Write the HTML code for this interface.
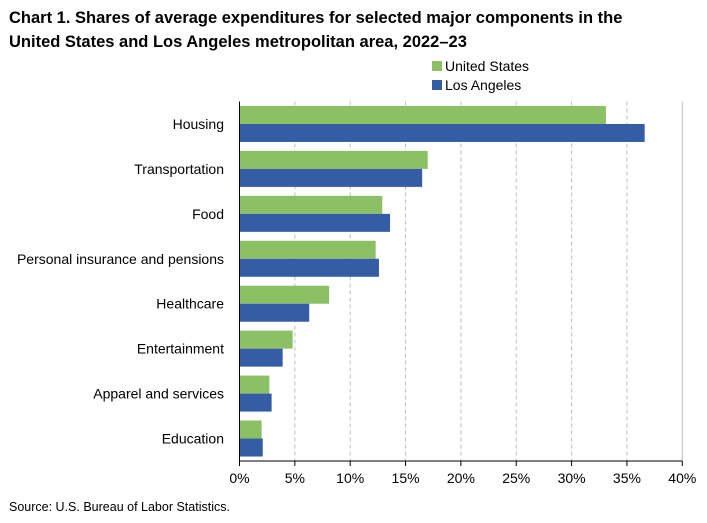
<!DOCTYPE html>
<html><head><meta charset="utf-8"><style>
body{margin:0;background:#fff;font-family:"Liberation Sans",Arial,sans-serif;}
#wrap{position:relative;width:707px;height:523px;overflow:hidden;}
.title{position:absolute;left:9px;top:6px;font-weight:bold;font-size:16.5px;line-height:24px;color:#000;}
.src{position:absolute;left:9px;top:500px;font-size:12.5px;color:#000;}
</style></head><body>
<div id="wrap">
<div class="title">Chart 1. Shares of average expenditures for selected major components in the<br>United States and Los Angeles metropolitan area, 2022–23</div>
<svg id="chart" width="707" height="523" style="position:absolute;left:0;top:0"></svg>
<div class="src">Source: U.S. Bureau of Labor Statistics.</div>
</div>
<script>
const categories=["Housing","Transportation","Food","Personal insurance and pensions","Healthcare","Entertainment","Apparel and services","Education"];
const usValues=[33.1,17.0,12.9,12.3,8.1,4.8,2.7,2.0];
const laValues=[36.6,16.5,13.6,12.6,6.3,3.9,2.9,2.1];
const tickValues=[0,5,10,15,20,25,30,35,40];
const tickLabels=["0%","5%","10%","15%","20%","25%","30%","35%","40%"];
const seriesNames=["United States","Los Angeles"];
const colors=["#8bc064","#345da5"];
const NS="http://www.w3.org/2000/svg";
const svg=document.getElementById('chart');
const x0=239.5,x1=682.3,yTop=101.5,yBot=461;
const xScale=v=>x0+(v-0)/(40-0)*(x1-x0);
const band=(yBot-yTop)/categories.length;
const bandY=i=>yTop+i*band;
function mk(t,a){const e=document.createElementNS(NS,t);for(const k in a)e.setAttribute(k,a[k]);svg.appendChild(e);return e;}
tickValues.forEach((v,i)=>{
  const x=xScale(v);
  if(v>0){const g=mk('line',{x1:x,x2:x,y1:yTop,y2:yBot,stroke:'#bdbdbd','stroke-width':1,'stroke-dasharray':v===40?'':'4,3'});
  
  }
  const t=mk('line',{x1:x,x2:x,y1:yBot,y2:yBot+5,stroke:'#000','stroke-width':1});
  
  
  const l=mk('text',{x:x,y:yBot+22,'text-anchor':'middle','font-size':'14','fill':'#000'});
  l.textContent=tickLabels[i];
  
  
});
const barH=18,off=(band-2*barH)/2;
categories.forEach((c,i)=>{
  const y=bandY(i);
  const b1=mk('rect',{x:x0,y:y+off,width:xScale(usValues[i])-x0,height:barH,fill:colors[0]});
  
  
  const b2=mk('rect',{x:x0,y:y+off+barH,width:xScale(laValues[i])-x0,height:barH,fill:colors[1]});
  
  
  const l=mk('text',{x:224,y:y+band/2+5,'text-anchor':'end','font-size':'14','fill':'#000'});
  l.textContent=c;
  
  
});
const ax=mk('line',{x1:x0,x2:x1,y1:yBot,y2:yBot,stroke:'#000','stroke-width':1});


const ay=mk('line',{x1:x0,x2:x0,y1:yTop,y2:yBot,stroke:'#000','stroke-width':1});


seriesNames.forEach((n,i)=>{
  const y=61+i*19;
  const s=mk('rect',{x:432,y:y,width:10,height:10,fill:colors[i]});
  
  
  const t=mk('text',{x:445,y:y+10,'font-size':'14','fill':'#000'});
  t.textContent=n;
  
  
});
</script>
</body></html>
